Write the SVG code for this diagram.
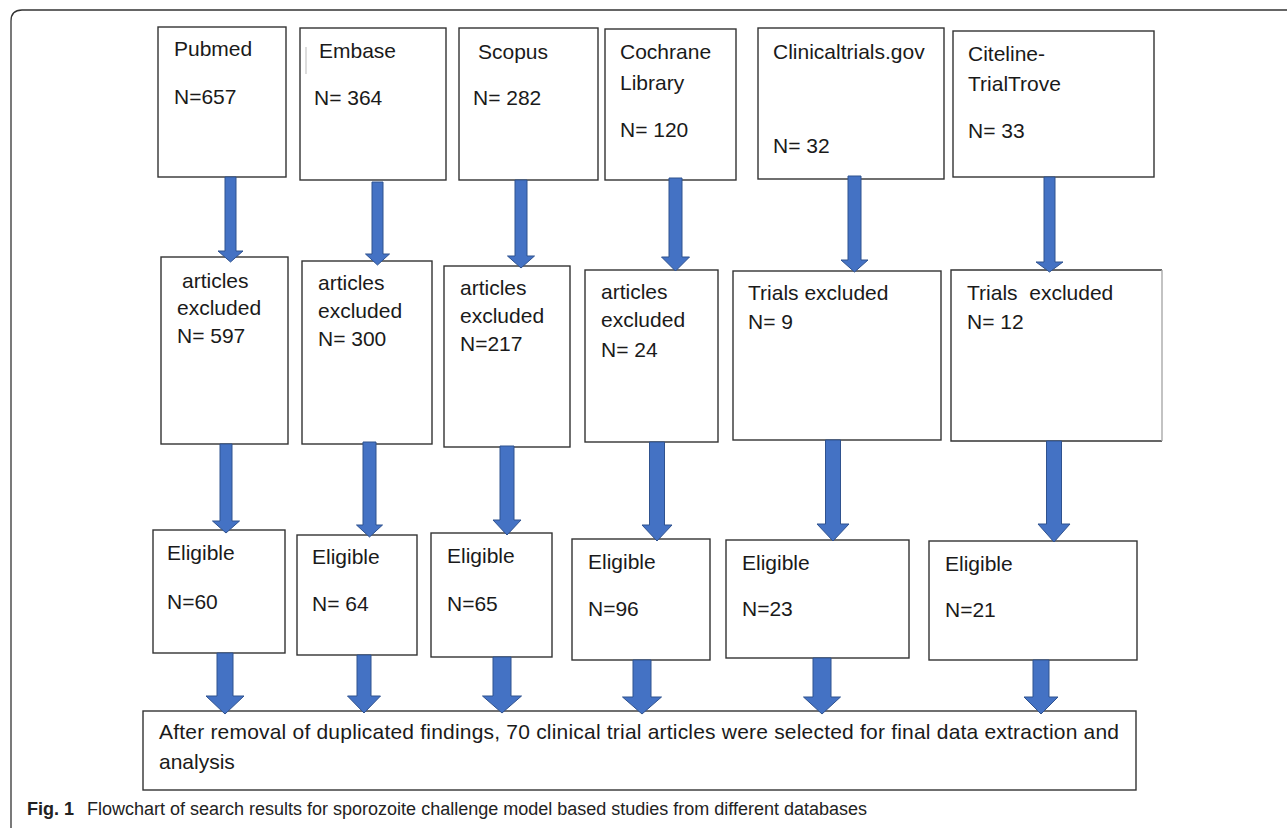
<svg xmlns="http://www.w3.org/2000/svg" width="1287" height="828" viewBox="0 0 1287 828">
<style>
.box{fill:#fff;stroke:#333;stroke-width:1.4}
.t{font-family:"Liberation Sans",Arial,sans-serif;font-size:21px;fill:#1a1a1a}
.arr{fill:#4472C4;stroke:#2F528F;stroke-width:1}
.cap{font-family:"Liberation Sans",Arial,sans-serif;font-size:18px;fill:#222}
</style>
<rect width="1287" height="828" fill="#fff"/>
<path d="M11,828 V21 Q11,10 22,10 H1287" fill="none" stroke="#333" stroke-width="1.3"/>

<g id="pubmed"><rect class="box" x="158" y="27" width="128" height="150"/><text class="t" x="174" y="56">Pubmed</text><text class="t" x="174" y="104">N=657</text></g>
<g id="embase"><rect class="box" x="300" y="28" width="146" height="152"/><line x1="306" y1="47" x2="306" y2="74" stroke="#bbb" stroke-width="1"/><text class="t" x="319" y="58">Embase</text><text class="t" x="314" y="105">N= 364</text></g>
<g id="scopus"><rect class="box" x="459" y="28" width="139" height="152"/><text class="t" x="478" y="59">Scopus</text><text class="t" x="473" y="105">N= 282</text></g>
<g id="cochrane"><rect class="box" x="605" y="29" width="131" height="151"/><text class="t" x="620" y="59">Cochrane</text><text class="t" x="620" y="90">Library</text><text class="t" x="620" y="137">N= 120</text></g>
<g id="clinicaltrials"><rect class="box" x="758" y="28" width="186" height="151"/><text class="t" x="773" y="59">Clinicaltrials.gov</text><text class="t" x="773" y="153">N= 32</text></g>
<g id="citeline"><rect class="box" x="953" y="31" width="201" height="146"/><text class="t" x="968" y="61">Citeline-</text><text class="t" x="968" y="91">TrialTrove</text><text class="t" x="968" y="138">N= 33</text></g>

<g id="pubmed-excluded"><rect class="box" x="161" y="257" width="127" height="187"/><text class="t" x="182" y="288">articles</text><text class="t" x="177" y="315">excluded</text><text class="t" x="177" y="343">N= 597</text></g>
<g id="embase-excluded"><rect class="box" x="302" y="261" width="130" height="183"/><text class="t" x="318" y="290">articles</text><text class="t" x="318" y="318">excluded</text><text class="t" x="318" y="346">N= 300</text></g>
<g id="scopus-excluded"><rect class="box" x="444" y="266" width="126" height="181"/><text class="t" x="460" y="295">articles</text><text class="t" x="460" y="323">excluded</text><text class="t" x="460" y="351">N=217</text></g>
<g id="cochrane-excluded"><rect class="box" x="585" y="270" width="133" height="172"/><text class="t" x="601" y="299">articles</text><text class="t" x="601" y="327">excluded</text><text class="t" x="601" y="357">N= 24</text></g>
<g id="clinicaltrials-excluded"><rect class="box" x="733" y="271" width="208" height="169"/><text class="t" x="748" y="300">Trials excluded</text><text class="t" x="748" y="329">N= 9</text></g>
<g id="citeline-excluded"><path d="M1162,270 H951 V441 H1162" fill="#fff" stroke="#333" stroke-width="1.4"/><line x1="1162" y1="270" x2="1162" y2="441" stroke="#aaa" stroke-width="1.4"/><text class="t" x="967" y="300" xml:space="preserve">Trials  excluded</text><text class="t" x="967" y="329">N= 12</text></g>

<g id="pubmed-eligible"><rect class="box" x="153" y="530" width="132" height="123"/><text class="t" x="167" y="560">Eligible</text><text class="t" x="167" y="609">N=60</text></g>
<g id="embase-eligible"><rect class="box" x="297" y="535" width="120" height="120"/><text class="t" x="312" y="564">Eligible</text><text class="t" x="312" y="611">N= 64</text></g>
<g id="scopus-eligible"><rect class="box" x="431" y="533" width="121" height="124"/><text class="t" x="447" y="563">Eligible</text><text class="t" x="447" y="611">N=65</text></g>
<g id="cochrane-eligible"><rect class="box" x="572" y="539" width="138" height="121"/><text class="t" x="588" y="569">Eligible</text><text class="t" x="588" y="616">N=96</text></g>
<g id="clinicaltrials-eligible"><rect class="box" x="726" y="540" width="183" height="118"/><text class="t" x="742" y="570">Eligible</text><text class="t" x="742" y="616">N=23</text></g>
<g id="citeline-eligible"><rect class="box" x="929" y="541" width="208" height="119"/><text class="t" x="945" y="571">Eligible</text><text class="t" x="945" y="617">N=21</text></g>

<g id="final"><rect class="box" x="143" y="711" width="993" height="79"/><text class="t" x="159" y="739" textLength="960" lengthAdjust="spacing">After removal of duplicated findings, 70 clinical trial articles were selected for final data extraction and</text><text class="t" x="159" y="769">analysis</text></g>

<g id="connectors">
<path class="arr" d="M225,177 H236 V251 H243 L230.5,262 L218,251 H225 Z"/>
<path class="arr" d="M372,182 H383 V254 H389.5 L377.5,265 L365.5,254 H372 Z"/>
<path class="arr" d="M515,180 H527 V256 H534.5 L521,268 L507.5,256 H515 Z"/>
<path class="arr" d="M669,178 H682 V257 H689.5 L675.5,271 L661.5,257 H669 Z"/>
<path class="arr" d="M848,176 H861 V260 H868 L854.5,272 L841,260 H848 Z"/>
<path class="arr" d="M1044,177 H1055 V262 H1063 L1049.5,272 L1036,262 H1044 Z"/>

<path class="arr" d="M220,444 H232 V521 H239.5 L226,533 L212.5,521 H220 Z"/>
<path class="arr" d="M363,442 H376 V525 H382.5 L369.5,537 L356.5,525 H363 Z"/>
<path class="arr" d="M500,446 H514 V520 H521 L507,535 L493,520 H500 Z"/>
<path class="arr" d="M649.5,442 H664.5 V525 H672 L657,541 L642,525 H649.5 Z"/>
<path class="arr" d="M825.5,440 H840.5 V524 H849 L833,541 L817,524 H825.5 Z"/>
<path class="arr" d="M1046.5,441 H1061.5 V524 H1070 L1054,542 L1038,524 H1046.5 Z"/>

<path class="arr" d="M217,653 H233 V696 H244 L225,714 L206,696 H217 Z"/>
<path class="arr" d="M357,655 H371 V696 H380.5 L364,713 L347.5,696 H357 Z"/>
<path class="arr" d="M493,657 H511 V696 H521.5 L502,713 L482.5,696 H493 Z"/>
<path class="arr" d="M633,660 H651 V697 H661.5 L642,714 L622.5,697 H633 Z"/>
<path class="arr" d="M813,658 H831 V697 H840.5 L822,714 L803.5,697 H813 Z"/>
<path class="arr" d="M1033,660 H1049 V697 H1058 L1041,714 L1024,697 H1033 Z"/>
</g>

<text class="cap" x="27" y="815"><tspan font-weight="bold">Fig. 1</tspan><tspan x="87">Flowchart of search results for sporozoite challenge model based studies from different databases</tspan></text>
</svg>
